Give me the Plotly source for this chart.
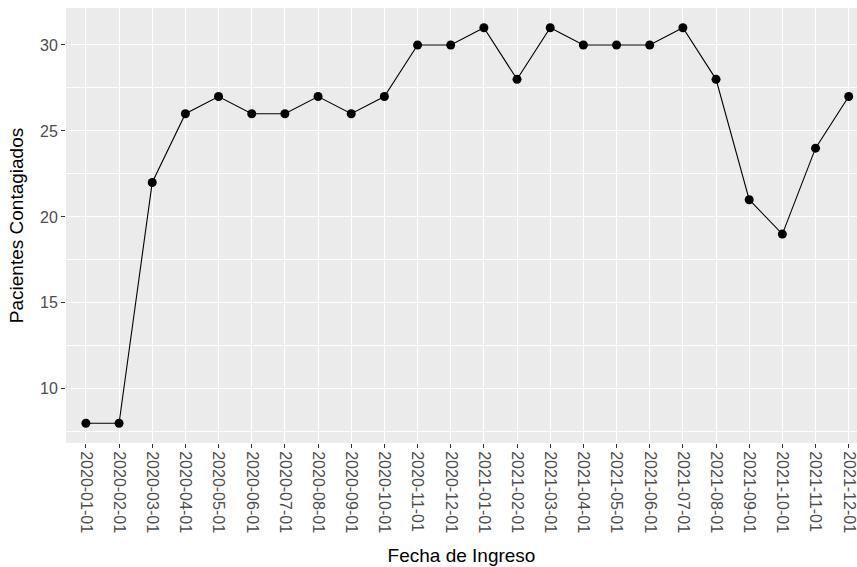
import plotly.graph_objects as go

fechas = ["2020-01-01", "2020-02-01", "2020-03-01", "2020-04-01", "2020-05-01", "2020-06-01",
          "2020-07-01", "2020-08-01", "2020-09-01", "2020-10-01", "2020-11-01", "2020-12-01",
          "2021-01-01", "2021-02-01", "2021-03-01", "2021-04-01", "2021-05-01", "2021-06-01",
          "2021-07-01", "2021-08-01", "2021-09-01", "2021-10-01", "2021-11-01", "2021-12-01"]
contagiados = [8, 8, 22, 26, 27, 26, 26, 27, 26, 27, 30, 30,
               31, 28, 31, 30, 30, 30, 31, 28, 21, 19, 24, 27]
y_ticks = [10, 15, 20, 25, 30]

fig = go.Figure()
fig.add_trace(go.Scatter(
    x=fechas, y=contagiados, mode="lines+markers",
    line=dict(color="black", width=1.1),
    marker=dict(color="black", size=9),
    showlegend=False, cliponaxis=False,
))

font = "Liberation Sans, Arial, sans-serif"
fig.update_layout(
    width=857, height=567,
    margin=dict(l=66, r=0, t=8, b=124),
    paper_bgcolor="white", plot_bgcolor="#EBEBEB",
    font=dict(family=font, color="#4D4D4D", size=16),
    xaxis=dict(
        type="category", range=[-0.6, 23.25], automargin=False,
        tickangle=90, showgrid=True, gridcolor="white", gridwidth=1.2,
        ticks="outside", ticklen=4, tickcolor="#333333", tickwidth=1,
        tickfont=dict(size=16, color="#4D4D4D"),
        zeroline=False, showline=False,
        title=dict(text="Fecha de Ingreso", font=dict(size=19, color="black"), standoff=16),
    ),
    yaxis=dict(
        range=[6.85, 32.15], tickvals=y_ticks, automargin=False,
        showgrid=True, gridcolor="white", gridwidth=1.2,
        minor=dict(tickvals=[7.5, 12.5, 17.5, 22.5, 27.5], showgrid=True, gridcolor="white", gridwidth=0.6),
        ticks="outside", ticklen=4, tickcolor="#333333", tickwidth=1,
        tickfont=dict(size=16, color="#4D4D4D"),
        zeroline=False, showline=False,
        title=dict(text="Pacientes Contagiados", font=dict(size=19, color="black"), standoff=11),
    ),
)

fig.write_html("out.html", config={"displayModeBar": False},
               post_script="document.body.style.margin='0';document.body.style.padding='0';")
